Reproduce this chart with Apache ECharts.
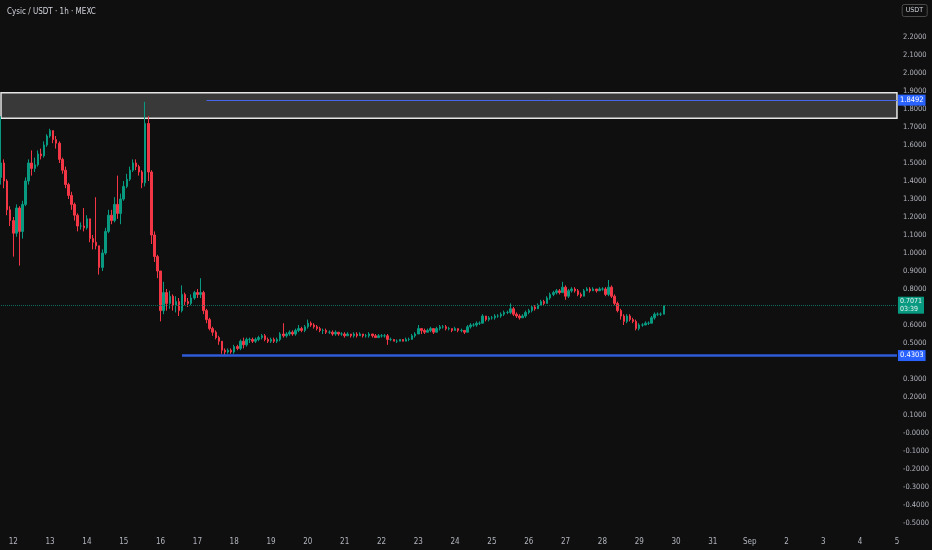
<!DOCTYPE html>
<html>
<head>
<meta charset="utf-8">
<script src="https://cdn.jsdelivr.net/npm/echarts@6/dist/echarts.min.js"></script>
<style>
  html, body { margin: 0; padding: 0; background: #0f0f0f; }
  #chart { width: 932px; height: 550px; }
</style>
</head>
<body>
<div id="chart"></div>
<script>
// ---- Data (2h candles), starting Aug 11 16:00 ----
const startTime = Date.UTC(2025, 7, 11, 16);
const slotHours = 2;
const slotCount = 293; // through Sep 5 00:00

const firstOpen = 1.42;
const closes = [
  1.50,1.40,1.24,1.18,
  1.11,1.25,1.12,1.27,1.40,1.50,1.47,1.49,1.55,1.54,1.60,1.65,
  1.68,1.63,1.61,1.52,1.46,1.38,1.32,1.27,1.21,1.15,1.15,1.14,
  1.19,1.08,1.06,1.04,0.92,1.00,1.12,1.21,1.18,1.27,1.22,1.30,
  1.37,1.41,1.46,1.50,1.48,1.45,1.39,1.72,1.45,1.10,0.98,0.90,
  0.68,0.78,0.72,0.76,0.71,0.73,0.68,0.77,0.73,0.72,0.75,0.78,
  0.77,0.78,0.68,0.63,0.58,0.56,0.53,0.51,0.46,0.45,0.46,0.45,
  0.48,0.47,0.51,0.49,0.52,0.52,0.51,0.52,0.53,0.54,0.52,0.51,
  0.52,0.51,0.52,0.55,0.54,0.55,0.56,0.55,0.57,0.58,0.57,0.59,
  0.61,0.60,0.59,0.58,0.57,0.57,0.56,0.56,0.55,0.56,0.55,0.55,
  0.54,0.55,0.54,0.55,0.54,0.55,0.54,0.54,0.55,0.54,0.53,0.54,
  0.54,0.54,0.52,0.52,0.51,0.51,0.52,0.51,0.52,0.52,0.54,0.55,
  0.58,0.57,0.56,0.57,0.58,0.56,0.58,0.59,0.59,0.58,0.58,0.57,
  0.58,0.57,0.57,0.56,0.59,0.60,0.60,0.61,0.61,0.65,0.63,0.64,
  0.64,0.65,0.65,0.66,0.67,0.67,0.69,0.66,0.65,0.64,0.65,0.67,
  0.68,0.70,0.69,0.71,0.73,0.72,0.75,0.77,0.78,0.79,0.78,0.81,
  0.76,0.79,0.80,0.79,0.77,0.76,0.79,0.80,0.79,0.80,0.79,0.80,
  0.80,0.77,0.81,0.76,0.72,0.68,0.65,0.62,0.65,0.63,0.62,0.58,
  0.60,0.60,0.61,0.61,0.64,0.66,0.66,0.66,0.7071
];
const highs = [
  1.76,1.52,1.41,1.26,
  1.20,1.27,1.26,1.29,1.42,1.52,1.57,1.53,1.57,1.58,1.62,1.66,
  1.69,1.68,1.65,1.62,1.53,1.48,1.39,1.34,1.28,1.22,1.17,1.25,
  1.21,1.19,1.10,1.31,1.04,1.02,1.14,1.24,1.24,1.31,1.43,1.33,
  1.40,1.44,1.48,1.52,1.52,1.49,1.46,1.84,1.76,1.46,1.12,0.99,
  0.90,0.84,0.80,0.79,0.77,0.76,0.75,0.82,0.78,0.75,0.77,0.79,
  0.80,0.86,0.79,0.69,0.64,0.59,0.57,0.54,0.51,0.47,0.47,0.47,
  0.49,0.49,0.52,0.53,0.53,0.53,0.53,0.53,0.54,0.55,0.55,0.53,
  0.53,0.53,0.53,0.56,0.61,0.56,0.57,0.57,0.58,0.60,0.59,0.60,
  0.63,0.62,0.61,0.60,0.59,0.58,0.58,0.57,0.57,0.57,0.56,0.56,
  0.56,0.56,0.55,0.56,0.56,0.56,0.55,0.55,0.56,0.55,0.55,0.55,
  0.55,0.55,0.55,0.53,0.52,0.52,0.52,0.52,0.53,0.53,0.55,0.56,
  0.60,0.58,0.58,0.58,0.59,0.58,0.59,0.60,0.60,0.60,0.59,0.58,
  0.59,0.58,0.58,0.57,0.60,0.61,0.61,0.62,0.62,0.66,0.65,0.65,
  0.65,0.66,0.66,0.67,0.68,0.68,0.72,0.70,0.67,0.66,0.66,0.68,
  0.69,0.71,0.71,0.72,0.74,0.74,0.76,0.78,0.79,0.80,0.80,0.84,
  0.82,0.80,0.81,0.81,0.80,0.78,0.80,0.81,0.81,0.81,0.80,0.81,
  0.81,0.81,0.85,0.82,0.77,0.73,0.69,0.66,0.66,0.66,0.64,0.63,
  0.61,0.61,0.62,0.62,0.65,0.67,0.67,0.67,0.71
];
const lows = [
  1.38,1.36,1.21,1.15,
  0.98,1.09,0.93,1.08,1.26,1.38,1.43,1.45,1.48,1.52,1.53,1.59,
  1.64,1.61,1.58,1.50,1.44,1.36,1.30,1.24,1.18,1.12,1.13,1.12,
  1.13,1.06,1.02,1.02,0.88,0.90,0.99,1.11,1.16,1.17,1.19,1.16,
  1.29,1.36,1.40,1.45,1.46,1.43,1.36,1.37,1.40,1.05,0.95,0.86,
  0.62,0.66,0.68,0.69,0.68,0.67,0.65,0.67,0.71,0.70,0.71,0.74,
  0.75,0.75,0.66,0.61,0.57,0.54,0.52,0.49,0.44,0.43,0.44,0.44,
  0.44,0.46,0.46,0.47,0.48,0.50,0.50,0.50,0.51,0.52,0.51,0.50,
  0.50,0.50,0.50,0.51,0.53,0.53,0.54,0.54,0.54,0.56,0.56,0.56,
  0.58,0.59,0.58,0.57,0.56,0.55,0.55,0.55,0.54,0.54,0.54,0.54,
  0.53,0.54,0.53,0.53,0.53,0.54,0.53,0.53,0.53,0.53,0.53,0.53,
  0.53,0.53,0.49,0.51,0.51,0.50,0.51,0.51,0.51,0.51,0.52,0.53,
  0.55,0.55,0.55,0.56,0.56,0.55,0.56,0.57,0.58,0.57,0.57,0.56,
  0.57,0.56,0.56,0.55,0.56,0.58,0.59,0.59,0.60,0.61,0.62,0.62,
  0.63,0.63,0.64,0.64,0.65,0.66,0.66,0.65,0.64,0.63,0.64,0.64,
  0.66,0.67,0.68,0.69,0.71,0.71,0.72,0.74,0.76,0.77,0.77,0.78,
  0.74,0.75,0.78,0.78,0.76,0.75,0.76,0.79,0.78,0.79,0.78,0.79,
  0.79,0.76,0.76,0.75,0.71,0.67,0.63,0.60,0.61,0.62,0.61,0.57,
  0.57,0.59,0.60,0.60,0.61,0.63,0.65,0.65,0.66
];

// Day tick labels (one per midnight, from Aug 12)
const dayTicks = ['12','13','14','15','16','17','18','19','20','21','22','23','24','25','26','27','28','29','30','31','Sep','2','3','4','5'];

// Price levels
const lastPrice = 0.7071;
const lastCountdown = '03:39';
const resistanceLevel = 1.8492;
const supportLevel = 0.4303;
const zoneTop = 1.89;
const zoneBottom = 1.748;
const resistanceStartSlot = 67;
const supportStartSlot = 59;

// ---- Build categories ----
function pad(n) { return (n < 10 ? '0' : '') + n; }
const categories = [];
for (let k = 0; k < slotCount; k++) {
  const d = new Date(startTime + k * slotHours * 3600000);
  categories.push(pad(d.getUTCMonth() + 1) + '-' + pad(d.getUTCDate()) + ' ' + pad(d.getUTCHours()) + ':00');
}
const firstMidnight = categories.findIndex(c => c.endsWith(' 00:00'));

const candles = closes.map((c, i) => {
  const o = i === 0 ? firstOpen : closes[i - 1];
  return [o, c, Math.min(lows[i], o, c), Math.max(highs[i], o, c)];
});

const labelFont = "'Liberation Sans Narrow', 'DejaVu Sans Condensed', 'Liberation Sans', sans-serif";
const axisColor = '#b2b5be';

const chart = echarts.init(document.getElementById('chart'), null, { renderer: 'canvas' });
chart.setOption({
  animation: false,
  backgroundColor: '#0f0f0f',
  title: [
    { text: 'Cysic / USDT · 1h · MEXC', left: 2, top: 3,
      textStyle: { color: '#d1d4dc', fontSize: 8, fontWeight: 'normal', fontFamily: labelFont } },
    { text: 'USDT', right: 5, top: 4, padding: [3, 4, 3, 4],
      borderColor: '#4a4a4a', borderWidth: 1, borderRadius: 2,
      textStyle: { color: '#d1d4dc', fontSize: 7, fontWeight: 'normal', fontFamily: labelFont } }
  ],
  grid: { left: 1, right: 31, top: 1, bottom: 9, containLabel: false },
  xAxis: {
    type: 'category',
    data: categories,
    boundaryGap: false,
    offset: -11,
    axisLine: { show: false },
    axisTick: { show: false },
    splitLine: { show: false },
    axisLabel: {
      color: axisColor, fontSize: 8, fontFamily: labelFont, margin: 8,
      interval: (idx, val) => val.endsWith(' 00:00'),
      formatter: (val, idx) => dayTicks[(idx - firstMidnight) / 12] || ''
    }
  },
  yAxis: {
    type: 'value',
    position: 'right',
    min: -0.6, max: 2.4, interval: 0.1,
    axisLine: { show: false },
    axisTick: { show: false },
    splitLine: { show: false },
    axisLabel: {
      color: axisColor, fontSize: 7.5, fontFamily: labelFont, margin: 6,
      formatter: v => {
        if (v > 2.25 || v < -0.55) return '';
        if (Math.abs(v - 0.7) < 1e-6 || Math.abs(v - 0.4) < 1e-6) return '';
        if (Math.abs(v) < 1e-9) return '-0.0000';
        return v.toFixed(4);
      }
    }
  },
  series: [{
    type: 'candlestick',
    data: candles,
    barWidth: 2,
    itemStyle: {
      color: '#089981', color0: '#f23645',
      borderColor: '#089981', borderColor0: '#f23645', borderWidth: 1
    },
    markArea: {
      silent: true,
      itemStyle: { color: 'rgba(100,100,100,0.5)', borderColor: '#e6e6e6', borderWidth: 1.5 },
      data: [[
        { coord: [categories[0], zoneTop] },
        { coord: [categories[slotCount - 1], zoneBottom] }
      ]]
    },
    markLine: {
      silent: true,
      symbol: ['none', 'none'],
      data: [
        [
          { coord: [categories[resistanceStartSlot], resistanceLevel],
            lineStyle: { color: '#4667f0', width: 1, type: 'solid' } },
          { coord: [categories[slotCount - 1], resistanceLevel],
            label: { show: true, position: 'end', distance: 1, formatter: resistanceLevel.toFixed(4),
              backgroundColor: '#2962ff', color: '#fff', fontSize: 7.5, fontFamily: labelFont, padding: [2, 2, 1, 2] } }
        ],
        [
          { coord: [categories[supportStartSlot], supportLevel],
            lineStyle: { color: '#2f5bd8', width: 2.5, type: 'solid' } },
          { coord: [categories[slotCount - 1], supportLevel],
            label: { show: true, position: 'end', distance: 1, formatter: supportLevel.toFixed(4),
              backgroundColor: '#2962ff', color: '#fff', fontSize: 7.5, fontFamily: labelFont, padding: [2, 2, 1, 2] } }
        ],
        {
          yAxis: lastPrice,
          lineStyle: { color: '#0b6b5b', width: 1, type: 'dotted' },
          label: { show: true, position: 'end', distance: 1,
            formatter: lastPrice.toFixed(4) + '\n' + lastCountdown,
            backgroundColor: '#089981', color: '#e8f5f1', fontSize: 7, lineHeight: 8,
            fontFamily: labelFont, padding: [1, 2, 0, 2] }
        }
      ]
    }
  }]
});
</script>
</body>
</html>
